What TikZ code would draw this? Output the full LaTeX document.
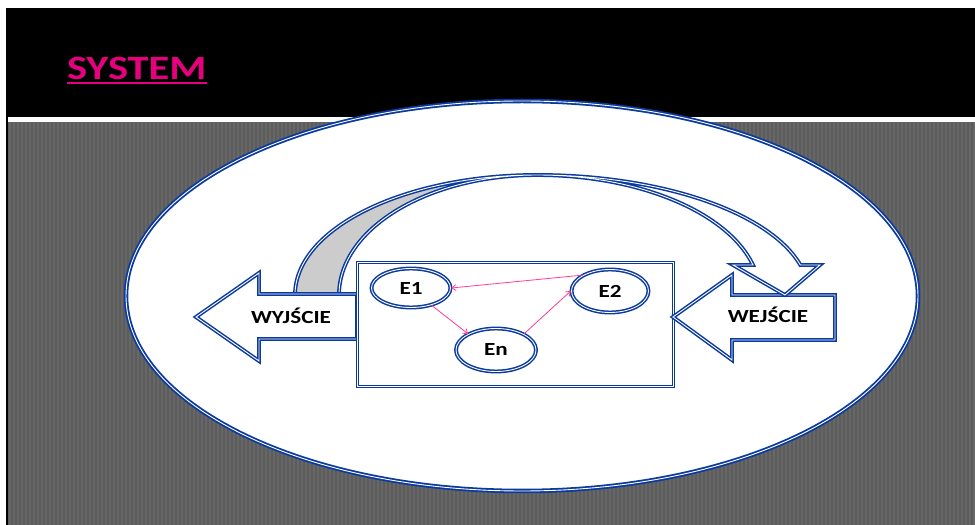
\documentclass[tikz,border=0pt]{standalone}
\usepackage{fontspec}
\setmainfont{Carlito}
\usetikzlibrary{shapes.geometric,arrows.meta}
\definecolor{dblue}{HTML}{0B3A9E}
\definecolor{tpink}{HTML}{E6007E}
\definecolor{apink}{HTML}{FF3C96}
\definecolor{bggray}{HTML}{5C5C5C}
\definecolor{stripe}{HTML}{676767}
\definecolor{bandgray}{HTML}{CCCCCC}
\newcommand\stretchtxt[1]{\scalebox{1.25}[1]{#1}}
\begin{document}
\begin{tikzpicture}[x=1pt,y=1pt,
  dbl/.style={draw=dblue, double=white, double distance=0.9pt, line width=1.5pt},
  elnode/.style={ellipse, dbl, fill=white, inner sep=0pt, font=\fontsize{18.5}{20}\selectfont\bfseries},
  lbl/.style={inner sep=0pt, font=\fontsize{18.5}{20}\selectfont\bfseries},
  pinkarrow/.style={draw=apink, line width=0.8pt, -{Straight Barb[length=4pt,width=6pt]}}]
\useasboundingbox (0,0) rectangle (975,525);
\fill[white] (0,0) rectangle (975,525);
\fill[black] (6,408) rectangle (975,517);
\fill[black] (6,0) rectangle (8,517);
\fill[bggray] (8,0) rectangle (975,403);
\foreach \i in {0,...,241} \fill[stripe] ({9+4*\i},0) rectangle ({10.5+4*\i},403);
% title
\node[anchor=base west, inner sep=0pt, text=tpink, font=\fontsize{34}{40}\selectfont\bfseries] (title) at (67,445) {\stretchtxt{SYSTEM}};
\fill[tpink] ([yshift=-2pt]title.base west) rectangle ([yshift=-4.5pt]title.base east);
% system ellipse
\node[ellipse, dbl, line width=1.8pt, fill=white, minimum width=792pt, minimum height=390pt, inner sep=0pt] (sys) at (522,229) {};
% back (gray) part of curved arrow
\filldraw[dbl, fill=bandgray] (295,230) arc[start angle=180,end angle=90,x radius=242pt,y radius=120pt]
  arc[start angle=90,end angle=180,x radius=198pt,y radius=120pt] -- cycle;
% output arrow
\filldraw[dbl, fill=white] (357,231) -- (259,231) -- (259,252) -- (196,208) -- (259,164) -- (259,186) -- (357,186) -- cycle;
% system box
\node[dbl, fill=white, minimum width=316pt, minimum height=124pt, inner sep=0pt] (box) at (515.5,200.5) {};
% elements
\node[elnode, minimum width=79pt, minimum height=39pt] (E1) at (411,237) {\stretchtxt{E1}};
\node[elnode, minimum width=77pt, minimum height=43pt] (E2) at (610,234) {\stretchtxt{E2}};
\node[elnode, minimum width=80pt, minimum height=43pt] (En) at (496,175) {\stretchtxt{En}};
\draw[pinkarrow] (E2.150) -- (E1.east);
\draw[pinkarrow] (E1.-40) -- (En.150);
\draw[pinkarrow] (En.30) -- (E2.west);
% input arrow
\filldraw[dbl, fill=white] (673,208) -- (732,250) -- (732,230) -- (835,230) -- (835,185) -- (732,185) -- (732,165) -- cycle;
% front part of curved arrow
\filldraw[dbl, fill=white] (537,350) arc[start angle=90,end angle=14.48,x radius=272pt,y radius=120pt]
  -- (820,260) -- (785,230) -- (733,260) -- (753,260)
  arc[start angle=14.48,end angle=90,x radius=223pt,y radius=120pt] -- cycle;
% labels
\node[lbl, anchor=base] (wy) at (291,201) {\stretchtxt{WYJŚCIE}};
\node[lbl, anchor=base] (we) at (768,202) {\stretchtxt{WEJŚCIE}};
\end{tikzpicture}
\end{document}
